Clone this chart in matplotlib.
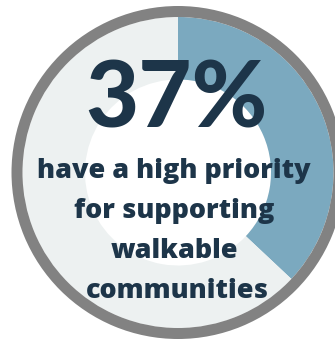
import matplotlib.pyplot as plt
from matplotlib.patches import Wedge

plt.rcParams["font.family"] = ["Lato", "DejaVu Sans"]

# share of respondents
labels = ["High priority", "Other"]
shares = [37, 63]
headline = "37%"
caption = ["have a high priority", "for supporting", "walkable", "communities"]

blue = "#7ba9bf"
light = "#edf1f1"
ring = "#828282"
navy = "#1d3549"

W, H = 335, 339
fig = plt.figure(figsize=(W / 100, H / 100), dpi=100)
ax = fig.add_axes([0, 0, 1, 1])

cx, cy = 178, H - 172.5
r_out = 166.5
r_in = 155.5
r_hole = 93

# donut
ax.pie(shares, colors=[blue, light], startangle=90, counterclock=False,
       radius=r_in, center=(cx, cy), frame=True,
       wedgeprops=dict(width=r_in - r_hole, linewidth=0))
ax.set_xlim(0, W)
ax.set_ylim(0, H)
ax.set_aspect("equal")
ax.axis("off")

# grey border ring
ax.add_patch(Wedge((cx, cy), r_out, 0, 360, width=r_out - r_in,
                   facecolor=ring, edgecolor="none"))

ax.text(176.5, H - 128, headline, ha="center", va="baseline",
        fontsize=66, fontweight="black", color=navy)

# caption lines: (x centre, baseline)
line_x = [174, 174, 174, 177]
baselines = [178.5, 218, 258.5, 297.5]
for line, xc, yb in zip(caption, line_x, baselines):
    ax.text(xc, H - yb, line, ha="center", va="baseline",
            fontsize=19.45, fontweight=800, color=navy,
            family=["Open Sans", "DejaVu Sans"])

fig.savefig("out.png", dpi=100)
